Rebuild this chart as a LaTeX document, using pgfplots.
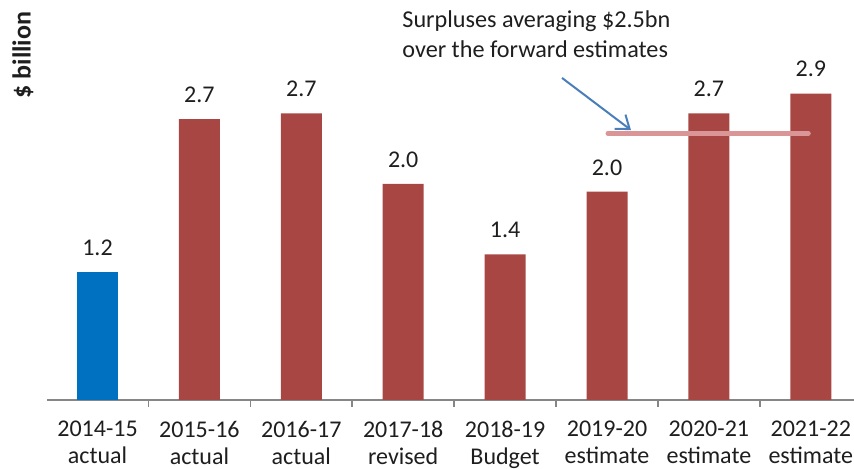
\documentclass[border=0pt]{standalone}
\usepackage{fontspec}
\setmainfont{Carlito}
\usepackage{pgfplots}
\usepackage{pgfplotstable}
\pgfplotsset{compat=1.18}
\usetikzlibrary{arrows.meta}
\definecolor{barred}{RGB}{168,70,68}
\definecolor{barblue}{RGB}{0,112,192}
\definecolor{axgray}{RGB}{134,134,134}
\definecolor{txt}{RGB}{30,30,30}
\definecolor{avgline}{RGB}{218,150,150}
\definecolor{arrowblue}{RGB}{74,126,187}

\pgfplotstableread{
x y lab
0 1.2 1.2
}\actualblue
\pgfplotstableread{
x y lab
1 2.634 2.7
2 2.688 2.7
3 2.025 2.0
4 1.366 1.4
5 1.953 2.0
6 2.688 2.7
7 2.873 2.9
}\others

\begin{document}
\begin{tikzpicture}[x=1pt,y=1pt]
\useasboundingbox (-23.5pt,-34.5pt) rectangle (403.5pt,200pt);
\begin{axis}[
  at={(0,0)}, anchor=south west,
  scale only axis,
  width=403.5pt, height=200pt,
  xmin=-0.4956, xmax=7.424,
  ymin=0, ymax=3.75,
  axis y line=none,
  axis x line*=bottom,
  x axis line style={-, axgray, line width=0.8pt},
  xtick={0,...,7},
  xticklabels={{2014-15\\actual},{2015-16\\actual},{2016-17\\actual},{2017-18\\revised},{2018-19\\Budget},{2019-20\\estimate},{2020-21\\estimate},{2021-22\\estimate}},
  major tick length=0pt,
  minor xtick={-0.5,0.5,...,6.5},
  minor tick length=3.5pt,
  tick align=inside,
  minor tick style={axgray, line width=0.8pt},
  xticklabel style={font=\fontsize{12}{13.5}\selectfont, align=center, anchor=north, inner sep=0pt, yshift=-10.5pt, text=txt},
  ybar, bar width=20.5pt,
  clip=false,
  nodes near coords={\pgfplotspointmeta},
  point meta=explicit symbolic,
  every node near coord/.append style={font=\fontsize{12}{13}\selectfont, text=txt, anchor=south, inner sep=0pt, yshift=8pt},
]
\addplot[fill=barblue, draw=none, bar shift=0pt] table[x=x, y=y, meta=lab] {\actualblue};
\addplot[fill=barred, draw=none, bar shift=0pt] table[x=x, y=y, meta=lab] {\others};
\addplot[sharp plot, avgline, line width=2.5pt, line cap=round, nodes near coords={}, no marks] coordinates {(5.01,2.5) (6.975,2.5)};
\draw[arrowblue, line width=1pt, -{Straight Barb[length=6pt,width=9pt]}] (axis cs:4.559,3.019) -- (axis cs:5.235,2.531);
\end{axis}
\node[anchor=base west, inner sep=0pt, text=txt, font=\fontsize{12.1}{13}\selectfont] at (177.5pt,186pt) {Surpluses averaging \$2.5bn};
\node[anchor=base west, inner sep=0pt, text=txt, font=\fontsize{12.1}{13}\selectfont] at (177.5pt,171pt) {over the forward estimates};
\node[rotate=90, inner sep=0pt, text=txt, font=\fontsize{13}{14}\selectfont\bfseries] at (-12pt,172.5pt) {\$ billion};
\end{tikzpicture}
\end{document}
